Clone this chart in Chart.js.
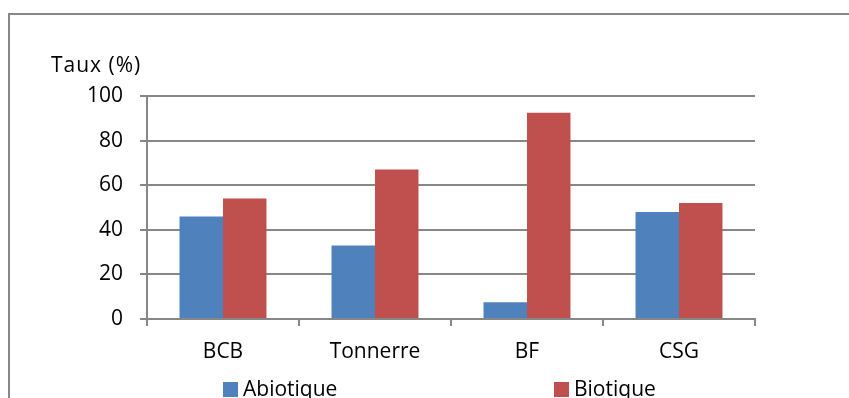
<!DOCTYPE html>
<html>
<head>
<meta charset="utf-8">
<script src="https://cdn.jsdelivr.net/npm/chart.js@4"></script>
<style>
  html, body { margin: 0; padding: 0; background: #fff; }
  #wrap { width: 849px; height: 398px; }
</style>
</head>
<body>
<div id="wrap"><canvas id="c" width="849" height="398"></canvas></div>
<script>
// Sites and rates (%)
const categories = ['BCB', 'Tonnerre', 'BF', 'CSG'];
const abiotique = [46, 33, 7.5, 48];
const biotique = [54, 67, 92.5, 52];
const seriesNames = ['Abiotique', 'Biotique'];
const axisTitle = 'Taux (%)';
const yTicks = [0, 20, 40, 60, 80, 100];

const FONT = '"Open Sans"';
const FONT_SIZE = 21;
const GRID = '#878787';

// Outer frame of the chart box
const framePlugin = {
  id: 'frame',
  beforeDraw(chart) {
    const ctx = chart.ctx;
    ctx.save();
    ctx.fillStyle = '#fff';
    ctx.fillRect(0, 0, chart.width, chart.height);
    ctx.strokeStyle = GRID;
    ctx.lineWidth = 2;
    ctx.strokeRect(9, 14, chart.width + 20, chart.height + 40);
    ctx.restore();
  }
};

// Axis title above the value axis, and legend along the bottom
const extrasPlugin = {
  id: 'extras',
  afterDraw(chart) {
    const ctx = chart.ctx;
    ctx.save();
    ctx.fillStyle = '#000';
    ctx.font = `${FONT_SIZE}px ${FONT}`;
    ctx.textBaseline = 'alphabetic';
    ctx.textAlign = 'left';
    if ('letterSpacing' in ctx) ctx.letterSpacing = '1px';
    ctx.fillText(axisTitle, 51, 72);
    if ('letterSpacing' in ctx) ctx.letterSpacing = '0px';

    const itemX = [223, 554];
    chart.data.datasets.forEach((ds, i) => {
      const x = itemX[i];
      ctx.fillStyle = ds.backgroundColor;
      ctx.fillRect(x, 382, 15, 15);
      ctx.fillStyle = '#000';
      ctx.fillText(ds.label, x + 20, 396);
    });
    ctx.restore();
  }
};

new Chart(document.getElementById('c'), {
  type: 'bar',
  data: {
    labels: categories,
    datasets: [
      { label: seriesNames[0], data: abiotique, backgroundColor: '#4f81bd', borderWidth: 0 },
      { label: seriesNames[1], data: biotique, backgroundColor: '#c0504d', borderWidth: 0 }
    ]
  },
  options: {
    responsive: false,
    animation: false,
    layout: { padding: { left: 0, right: 94, top: 96, bottom: 0 } },
    datasets: { bar: { categoryPercentage: 0.572, barPercentage: 1.0 } },
    plugins: {
      legend: { display: false },
      tooltip: { enabled: false },
      title: { display: false }
    },
    scales: {
      x: {
        grid: {
          offset: true,
          drawOnChartArea: false,
          drawTicks: true,
          tickLength: 7,
          color: GRID,
          lineWidth: 2
        },
        border: { display: true, color: GRID, width: 2 },
        ticks: { color: '#000', font: { family: FONT, size: FONT_SIZE }, padding: 13, maxRotation: 0 },
        afterFit(scale) { scale.height = 79; }
      },
      y: {
        min: 0,
        max: 100,
        afterBuildTicks(scale) { scale.ticks = yTicks.map(v => ({ value: v })); },
        grid: { color: GRID, lineWidth: 2, tickLength: 7, drawTicks: true },
        border: { display: true, color: GRID, width: 2 },
        ticks: { color: '#000', font: { family: FONT, size: FONT_SIZE }, padding: 17 },
        afterFit(scale) { scale.width = 147; }
      }
    }
  },
  plugins: [framePlugin, extrasPlugin]
});
</script>
</body>
</html>
